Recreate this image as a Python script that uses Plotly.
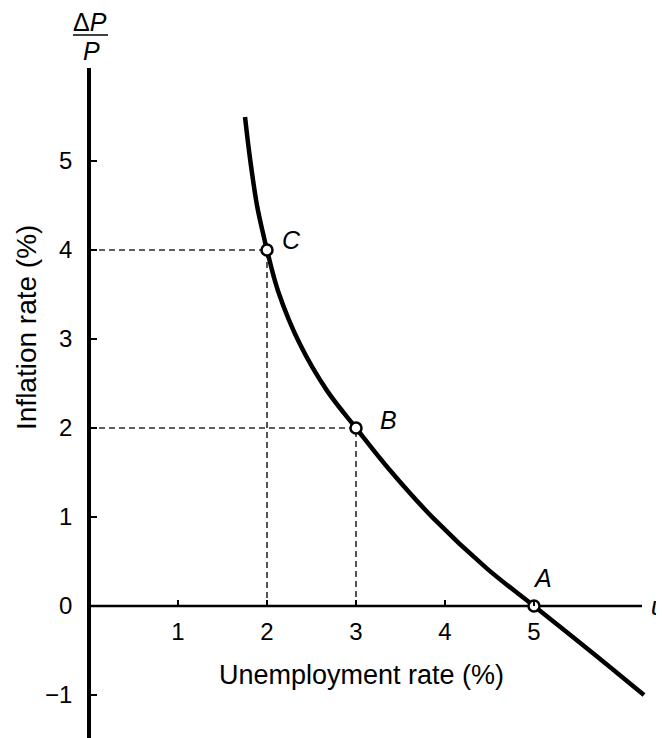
import plotly.graph_objects as go

# Phillips curve readings (unemployment %, inflation %)
curve_u = [1.753, 1.809, 1.888, 1.950, 2.0, 2.124, 2.371, 2.674, 3.0, 3.36, 3.865, 4.472, 5.0, 5.663, 6.236]
curve_pi = [5.494, 5.03, 4.50, 4.21, 4.0, 3.54, 2.94, 2.42, 2.0, 1.55, 0.99, 0.42, 0.0, -0.53, -1.0]

# Labelled points
point_names = ["C", "B", "A"]
point_u = [2, 3, 5]
point_pi = [4, 2, 0]

x_tickvals = [1, 2, 3, 4, 5]
y_tickvals = [-1, 0, 1, 2, 3, 4, 5]
y_ticktext = ["\u22121", "0", "1", "2", "3", "4", "5"]

FONT = "Liberation Sans, Arial, Helvetica, sans-serif"
OFF = 8                      # page body margin
PAGE_W, PAGE_H = 664, 738
W, H = PAGE_W - OFF, PAGE_H - OFF
PX = 89.0                    # pixels per unit
X0_PX, Y0_PX = 89, 606       # page pixels of the origin


def pxp(px):
    return (px - OFF) / W


def pyp(py):
    return 1 - (py - OFF) / H


fig = go.Figure()

# dashed guide lines for C and B
for name, u, p in zip(point_names, point_u, point_pi):
    if p > 0:
        fig.add_trace(go.Scatter(
            x=[0, u, u], y=[p, p, 0], mode="lines",
            line=dict(color="#2a2a2a", width=1.6, dash="6px,4px"),
            hoverinfo="skip", showlegend=False))

# curve
fig.add_trace(go.Scatter(
    x=curve_u, y=curve_pi, mode="lines",
    line=dict(color="black", width=4.5, shape="spline", smoothing=1.0),
    showlegend=False))

# points
fig.add_trace(go.Scatter(
    x=point_u, y=point_pi, mode="markers",
    marker=dict(symbol="circle", size=11, color="white",
                line=dict(color="black", width=2.5)),
    cliponaxis=False, showlegend=False))

x_max = (PAGE_W - X0_PX) / PX
y_min = (Y0_PX - PAGE_H) / PX
y_max = (Y0_PX - 68) / PX

fig.update_layout(
    width=W, height=H,
    margin=dict(l=0, r=0, t=0, b=0),
    paper_bgcolor="white", plot_bgcolor="white",
    font=dict(family=FONT, color="black", size=24),
    xaxis=dict(
        domain=[pxp(X0_PX), 1], range=[0, x_max],
        anchor="free", position=pyp(Y0_PX),
        showgrid=False, zeroline=False, showline=False,
        ticks="inside", ticklen=6, tickwidth=1.5, tickcolor="black",
        tickvals=x_tickvals, tickfont=dict(size=24),
        ticklabelstandoff=9,
    ),
    yaxis=dict(
        domain=[0, pyp(68)], range=[y_min, y_max],
        anchor="free", position=pxp(X0_PX),
        showgrid=False, zeroline=False,
        showline=True, linewidth=3.5, linecolor="black",
        ticks="inside", ticklen=6, tickwidth=1.5, tickcolor="black",
        tickvals=y_tickvals, ticktext=y_ticktext, tickfont=dict(size=24),
        ticklabelstandoff=10,
    ),
)

# x axis line (shorter than the plot area)
fig.add_shape(type="line", xref="x", yref="y", x0=0, x1=(642 - X0_PX) / PX, y0=0, y1=0,
              line=dict(color="black", width=2.5), layer="below")

# point labels
label_pos = {"C": (2.28, 4.11), "B": (3.37, 2.09), "A": (5.10, 0.31)}
for name in point_names:
    lx, ly = label_pos[name]
    fig.add_annotation(x=lx, y=ly, xref="x", yref="y", text=f"<i>{name}</i>",
                       xanchor="center", yanchor="middle",
                       showarrow=False, font=dict(size=25, family=FONT))
fig.add_annotation(x=(658 - X0_PX) / PX, y=0.0, xref="x", yref="y", text="<i>u</i>",
                   xanchor="center", yanchor="middle",
                   showarrow=False, font=dict(size=25, family=FONT))

# axis titles
fig.add_annotation(x=pxp(361), y=pyp(675), xref="paper", yref="paper",
                   xanchor="center", yanchor="middle",
                   text="Unemployment rate (%)", showarrow=False,
                   font=dict(size=27, family=FONT))
fig.add_annotation(x=pxp(26), y=pyp(328), xref="paper", yref="paper",
                   xanchor="center", yanchor="middle",
                   text="Inflation rate (%)", textangle=-90, showarrow=False,
                   font=dict(size=28, family=FONT))

# ΔP / P
fig.add_annotation(x=pxp(90), y=pyp(22), xref="paper", yref="paper",
                   xanchor="center", yanchor="middle",
                   text="\u0394<i>P</i>", showarrow=False, font=dict(size=25, family=FONT))
fig.add_shape(type="line", xref="paper", yref="paper", x0=pxp(73), x1=pxp(108),
              y0=pyp(35), y1=pyp(35), line=dict(color="black", width=1.5))
fig.add_annotation(x=pxp(91), y=pyp(51), xref="paper", yref="paper",
                   xanchor="center", yanchor="middle",
                   text="<i>P</i>", showarrow=False, font=dict(size=25, family=FONT))

fig.write_html("out.html")
